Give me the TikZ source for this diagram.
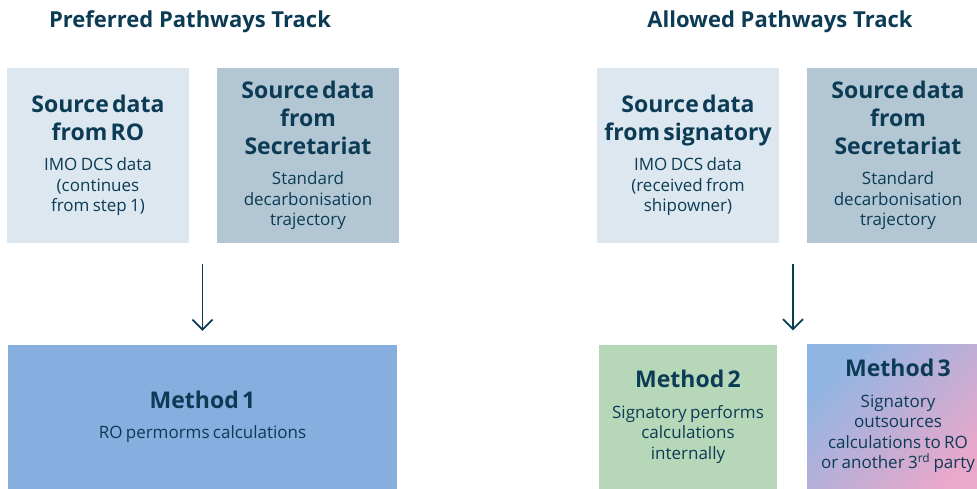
\documentclass[tikz,border=0pt]{standalone}
\usepackage{fontspec}
\setmainfont{Open Sans}
\usetikzlibrary{arrows.meta,calc}
\definecolor{ink}{HTML}{0C3B55}
\definecolor{srcLight}{HTML}{DCE7EF}
\definecolor{srcDark}{HTML}{B2C7D3}
\definecolor{methA}{HTML}{86AEDE}
\definecolor{methB}{HTML}{B6D8B8}
\definecolor{methCtop}{HTML}{8FB5E3}
\definecolor{methCbot}{HTML}{EAA8CA}
\newcommand\trackfont{\fontsize{22}{26}\selectfont\bfseries}
\newcommand\headfont{\fontsize{23}{28}\selectfont\bfseries}
\newcommand\bodyfont{\fontsize{17}{20.5}\selectfont}

\begin{document}
\begin{tikzpicture}[x=1pt,y=-1pt,
  track/.style={text=ink,font=\trackfont},
  srcbox/.style={minimum width=182pt,minimum height=175pt,inner sep=0pt,
    text width=180pt,align=center,text=ink},
  methbox/.style={minimum height=144pt,inner sep=0pt,align=center,text=ink},
  flow/.style={ink,line width=1.8pt,-{Straight Barb[length=10pt,width=20pt]},
    shorten <=21pt,shorten >=14pt}]
\useasboundingbox (0,0) rectangle (977,488);
%
\node[track] (tPref) at (190,22) {Preferred Pathways Track};
\node[track] (tAllow) at (780,22) {Allowed Pathways Track};
%
\node[srcbox,fill=srcLight] (srcRO) at (98,155.5)
  {{\headfont Source data\\from RO\par}\vspace{10pt}
   {\bodyfont IMO DCS data\\(continues\\from step 1)\par}};
\node[srcbox,fill=srcDark] (secL) at (308,155.5)
  {{\headfont Source data\\from\\Secretariat\par}\vspace{10pt}
   {\bodyfont Standard\\decarbonisation\\trajectory\par}};
\node[srcbox,fill=srcLight] (srcSig) at (688,155.5)
  {{\headfont Source data\\from signatory\par}\vspace{10pt}
   {\bodyfont IMO DCS data\\(received from\\shipowner)\par}};
\node[srcbox,fill=srcDark] (secR) at (898,155.5)
  {{\headfont Source data\\from\\Secretariat\par}\vspace{10pt}
   {\bodyfont Standard\\decarbonisation\\trajectory\par}};
%
\node[methbox,fill=methA,minimum width=389pt,text width=380pt] (m1) at (202.5,417)
  {{\headfont Method 1\par}\vspace{10pt}
   {\bodyfont RO permorms calculations\par}};
\node[methbox,fill=methB,minimum width=178pt,text width=178pt] (m2) at (688,417)
  {{\headfont Method 2\par}\vspace{10pt}
   {\bodyfont Signatory performs\\calculations\\internally\par}};
\node[methbox,top color=methCtop,bottom color=methCbot,shading angle=45,
  minimum width=182pt,text width=182pt] (m3) at (898,416)
  {{\headfont Method 3\par}\vspace{10pt}
   {\bodyfont Signatory\\outsources\\calculations to RO\\or another 3\textsuperscript{rd} party\par}};
%
\draw[flow] (m1.north |- srcRO.south) -- (m1.north);
\draw[flow] ($(srcSig.south)!.5!(secR.south)$) -- ($(m2.north)!.5!(m3.north)$);
\end{tikzpicture}
\end{document}
